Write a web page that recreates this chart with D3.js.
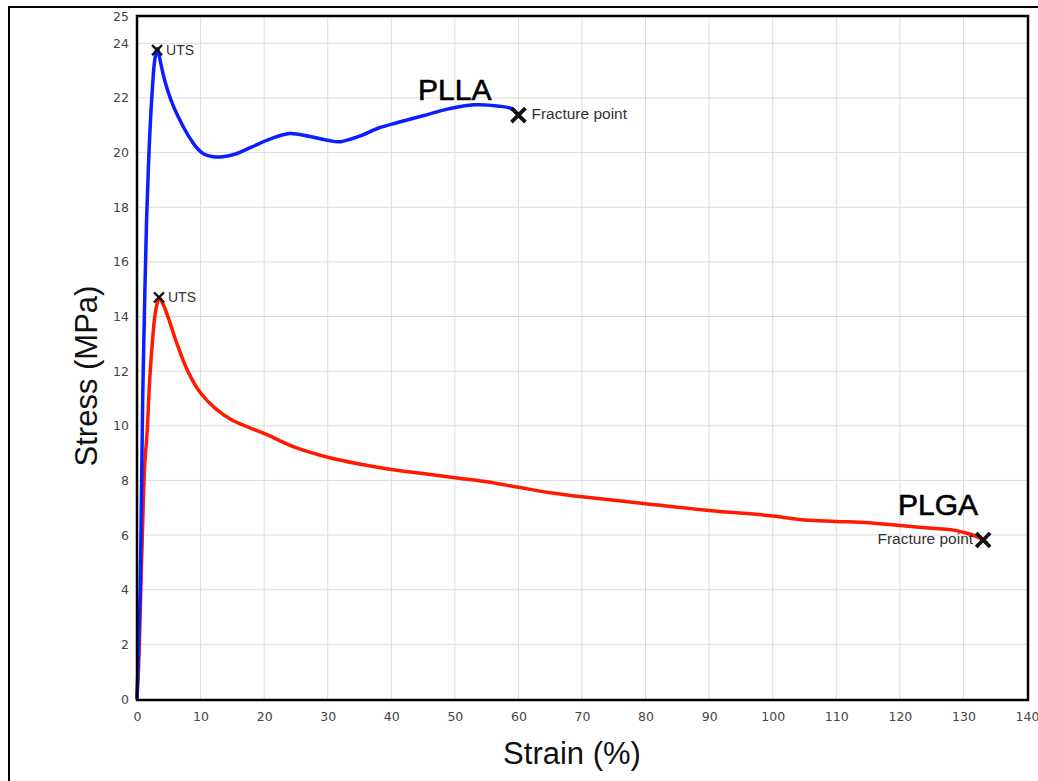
<!DOCTYPE html>
<html>
<head>
<meta charset="utf-8">
<script src="https://cdn.jsdelivr.net/npm/d3@7"></script>
<style>
  body { margin: 0; background: #fff; }
  svg { display: block; }
</style>
</head>
<body>
<svg id="chart"></svg>
<script>
// PLLA curve (strain %, stress MPa)
var pllaStrain = [0, 0.2, 0.5, 0.7, 0.9, 1.2, 1.5, 1.8, 2.0, 2.3, 2.8, 3.2, 3.7, 4.4, 5.3, 6.5, 8.0, 9.5, 10.5, 12, 13.5, 15.5, 18, 21, 24, 27, 30, 32, 35, 38, 41, 45, 49, 53, 57, 59, 60];
var pllaStress = [0, 1.5, 4, 7.5, 11, 14.5, 17.5, 19.5, 20.6, 21.9, 23.4, 23.8, 23.3, 22.6, 21.95, 21.3, 20.65, 20.15, 19.95, 19.85, 19.85, 19.95, 20.2, 20.5, 20.7, 20.6, 20.45, 20.4, 20.6, 20.9, 21.1, 21.35, 21.6, 21.75, 21.7, 21.6, 21.4];

// PLGA curve
var plgaStrain = [0, 0.3, 0.6, 0.9, 1.2, 1.6, 2.0, 2.4, 2.8, 3.2, 3.5, 4.2, 5.0, 6.3, 8.0, 10, 12.5, 15, 17.5, 20, 25, 30, 35, 40, 45, 50, 55, 60, 65, 70, 80, 90, 100, 105, 110, 115, 120, 125, 128, 130, 132, 133.8];
var plgaStress = [0, 1.5, 4, 6.5, 8.5, 9.8, 11.7, 13, 14, 14.5, 14.7, 14.4, 13.9, 13.0, 12.0, 11.2, 10.6, 10.2, 9.95, 9.72, 9.2, 8.85, 8.6, 8.4, 8.25, 8.1, 7.95, 7.75, 7.55, 7.4, 7.15, 6.9, 6.7, 6.55, 6.5, 6.45, 6.35, 6.25, 6.2, 6.1, 5.95, 5.7];

// marker points [strain, stress]
var utsPoints = [[3.15, 23.75], [3.46, 14.7]];
var fracturePoints = [[60.0, 21.37], [133.1, 5.82]];

var xTicks = d3.range(0, 141, 10);
var yTicks = d3.range(0, 25, 2).concat([25]);

var width = 1038, height = 781;
var plot = {left: 137, right: 1027, top: 16, bottom: 699};

var svg = d3.select("#chart")
    .attr("width", width)
    .attr("height", height);

// outer frame
svg.append("rect")
    .attr("x", 9).attr("y", 7)
    .attr("width", 1100).attr("height", 900)
    .attr("fill", "none")
    .attr("stroke", "#000")
    .attr("stroke-width", 2);

var x = d3.scaleLinear().domain([0, 140]).range([plot.left, plot.right]);
var y = d3.scaleLinear().domain([0, 25]).range([plot.bottom, plot.top]);

// grid
svg.append("g").selectAll("line")
    .data(xTicks.filter(function (d) { return d > 0 && d < 140; }))
    .enter().append("line")
    .attr("x1", function (d) { return x(d); })
    .attr("x2", function (d) { return x(d); })
    .attr("y1", y(0)).attr("y2", y(25))
    .attr("stroke", "#dcdcdc")
    .attr("stroke-width", 1);

svg.append("g").selectAll("line")
    .data(yTicks.filter(function (d) { return d > 0 && d < 25; }))
    .enter().append("line")
    .attr("y1", function (d) { return y(d); })
    .attr("y2", function (d) { return y(d); })
    .attr("x1", x(0)).attr("x2", x(140))
    .attr("stroke", "#dcdcdc")
    .attr("stroke-width", 1);

// axes (labels only)
var xAxis = d3.axisBottom(x).tickValues(xTicks).tickSize(0).tickPadding(13);
var yAxis = d3.axisLeft(y).tickValues(yTicks).tickSize(0).tickPadding(8);

var gx = svg.append("g")
    .attr("transform", "translate(0," + plot.bottom + ")")
    .call(xAxis);
var gy = svg.append("g")
    .attr("transform", "translate(" + plot.left + ",0)")
    .call(yAxis);

[gx, gy].forEach(function (g) {
    g.select(".domain").remove();
    g.selectAll("text")
        .attr("fill", "#444")
        .style("font-family", "DejaVu Sans, sans-serif")
        .style("font-size", "12.5px");
});

// curves
var line = d3.line()
    .x(function (d) { return x(d[0]); })
    .y(function (d) { return y(d[1]); })
    .curve(d3.curveCatmullRom.alpha(0.5));

svg.append("path")
    .datum(d3.zip(plgaStrain, plgaStress))
    .attr("d", line)
    .attr("fill", "none")
    .attr("stroke", "#ff1a00")
    .attr("stroke-width", 3.5)
    .attr("stroke-linejoin", "round");

svg.append("path")
    .datum(d3.zip(pllaStrain, pllaStress))
    .attr("d", line)
    .attr("fill", "none")
    .attr("stroke", "#0a1eff")
    .attr("stroke-width", 3.5)
    .attr("stroke-linejoin", "round");

// plot frame
svg.append("rect")
    .attr("x", plot.left).attr("y", plot.top)
    .attr("width", plot.right - plot.left + 1).attr("height", plot.bottom - plot.top + 1)
    .attr("fill", "none")
    .attr("stroke", "#000")
    .attr("stroke-width", 2.5);

// markers
function cross(p, r, w) {
    var cx = x(p[0]), cy = y(p[1]);
    svg.append("path")
        .attr("d", "M" + (cx - r) + "," + (cy - r) + "L" + (cx + r) + "," + (cy + r) +
                   "M" + (cx - r) + "," + (cy + r) + "L" + (cx + r) + "," + (cy - r))
        .attr("stroke", "#111")
        .attr("stroke-width", w)
        .attr("fill", "none");
}
utsPoints.forEach(function (p) { cross(p, 5, 2.2); });
fracturePoints.forEach(function (p) { cross(p, 7, 3.8); });

// annotations
function label(t, px, py, size, color, anchor) {
    return svg.append("text")
        .attr("x", px).attr("y", py)
        .attr("text-anchor", anchor || "start")
        .attr("fill", color)
        .style("font-family", "Liberation Sans, Arial, sans-serif")
        .style("font-size", size + "px")
        .text(t);
}
utsPoints.forEach(function (p) {
    label("UTS", x(p[0]) + 9, y(p[1]) + 5, 14, "#333");
});
label("Fracture point", x(fracturePoints[0][0]) + 13, y(fracturePoints[0][1]) + 4, 15.5, "#333");
label("Fracture point", x(fracturePoints[1][0]) - 10, y(fracturePoints[1][1]) + 4, 15.5, "#333", "end");
label("PLLA", 418, 100, 30, "#000").attr("stroke", "#000").attr("stroke-width", 0.6);
label("PLGA", 898, 515, 30, "#000").attr("stroke", "#000").attr("stroke-width", 0.6);

// axis titles
label("Strain (%)", 572, 764, 31, "#111", "middle");
svg.append("text")
    .attr("transform", "translate(97,376) rotate(-90)")
    .attr("text-anchor", "middle")
    .attr("fill", "#111")
    .style("font-family", "Liberation Sans, Arial, sans-serif")
    .style("font-size", "31px")
    .text("Stress (MPa)");
</script>
</body>
</html>
